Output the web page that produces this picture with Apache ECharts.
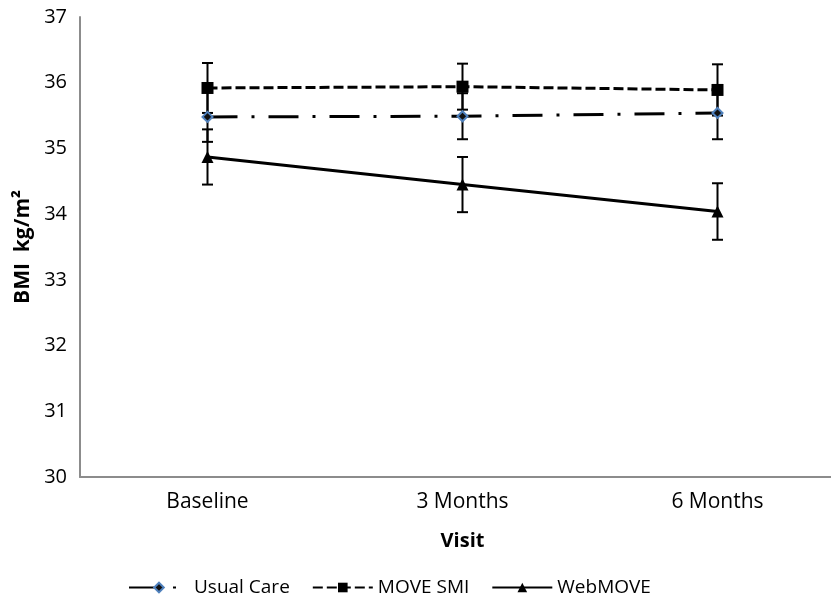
<!DOCTYPE html>
<html>
<head>
<meta charset="utf-8">
<script src="https://cdn.jsdelivr.net/npm/echarts@6/dist/echarts.min.js"></script>
<style>html,body{margin:0;padding:0;background:#fff}#c{width:831px;height:597px}</style>
</head>
<body>
<div id="c"></div>
<script>
var categories = ['Baseline', '3 Months', '6 Months'];
var usualCare = [35.48, 35.49, 35.54];
var usualCareErr = [0.38, 0.35, 0.40];
var moveSmi = [35.92, 35.94, 35.89];
var moveSmiErr = [0.38, 0.35, 0.39];
var webMove = [34.87, 34.45, 34.04];
var webMoveErr = [0.42, 0.42, 0.43];

var FONT = '"Open Sans", sans-serif';

function errData(vals, errs) {
  return vals.map(function (v, i) { return [i, v - errs[i], v + errs[i]]; });
}
function errSeries(vals, errs) {
  return {
    type: 'custom',
    silent: true,
    z: 3,
    data: errData(vals, errs),
    encode: { x: 0, y: [1, 2] },
    renderItem: function (params, api) {
      var x = api.value(0);
      var lo = api.coord([x, api.value(1)]);
      var hi = api.coord([x, api.value(2)]);
      var w = 5.5;
      var st = { stroke: '#000', lineWidth: 2 };
      return {
        type: 'group',
        children: [
          { type: 'line', shape: { x1: hi[0], y1: hi[1], x2: lo[0], y2: lo[1] }, style: st },
          { type: 'line', shape: { x1: hi[0] - w, y1: hi[1], x2: hi[0] + w, y2: hi[1] }, style: st },
          { type: 'line', shape: { x1: lo[0] - w, y1: lo[1], x2: lo[0] + w, y2: lo[1] }, style: st }
        ]
      };
    }
  };
}

var chart = echarts.init(document.getElementById('c'), null, { renderer: 'canvas' });
chart.setOption({
  animation: false,
  textStyle: { fontFamily: FONT },
  grid: { left: 80, top: 17, width: 765, height: 460, containLabel: false, outerBoundsMode: 'none' },
  legend: {
    left: 123,
    top: 573,
    itemWidth: 60,
    itemHeight: 12,
    itemGap: 22,
    textStyle: { fontFamily: FONT, fontSize: 19, color: '#000' },
    data: ['Usual Care', 'MOVE SMI', 'WebMOVE']
  },
  xAxis: {
    type: 'category',
    data: categories,
    boundaryGap: true,
    name: 'Visit',
    nameLocation: 'middle',
    nameGap: 54,
    nameTextStyle: { fontFamily: FONT, fontSize: 20, fontWeight: 'bold', color: '#000' },
    axisLine: { lineStyle: { color: '#8c8c8c', width: 2 } },
    axisTick: { show: false },
    axisLabel: { color: '#000', fontSize: 21, margin: 15, fontFamily: FONT },
    splitLine: { show: false }
  },
  yAxis: {
    type: 'value',
    min: 30,
    max: 37,
    interval: 1,
    name: 'BMI  kg/m\u00B2',
    nameLocation: 'middle',
    nameGap: 44,
    nameTextStyle: { fontFamily: FONT, fontSize: 21, fontWeight: 'bold', color: '#000' },
    axisLine: { show: true, lineStyle: { color: '#8c8c8c', width: 2 } },
    axisTick: { show: false },
    axisLabel: { color: '#000', fontSize: 20, margin: 13, fontFamily: FONT },
    splitLine: { show: false }
  },
  series: [
    {
      name: 'Usual Care',
      type: 'line',
      data: usualCare,
      z: 4,
      symbol: 'diamond',
      symbolSize: 10,
      itemStyle: { color: '#111', borderColor: '#4F81BD', borderWidth: 2 },
      lineStyle: { color: '#000', width: 3, type: [30, 14, 3, 14] }
    },
    {
      name: 'MOVE SMI',
      type: 'line',
      data: moveSmi,
      z: 4,
      symbol: 'rect',
      symbolSize: 12,
      itemStyle: { color: '#000', borderColor: '#000', borderWidth: 0 },
      lineStyle: { color: '#000', width: 3, type: [10, 4] }
    },
    {
      name: 'WebMOVE',
      type: 'line',
      data: webMove,
      z: 4,
      symbol: 'triangle',
      symbolSize: 12,
      itemStyle: { color: '#000', borderWidth: 0 },
      lineStyle: { color: '#000', width: 3, type: 'solid' }
    },
    errSeries(usualCare, usualCareErr),
    errSeries(moveSmi, moveSmiErr),
    errSeries(webMove, webMoveErr)
  ]
});
</script>
</body>
</html>
